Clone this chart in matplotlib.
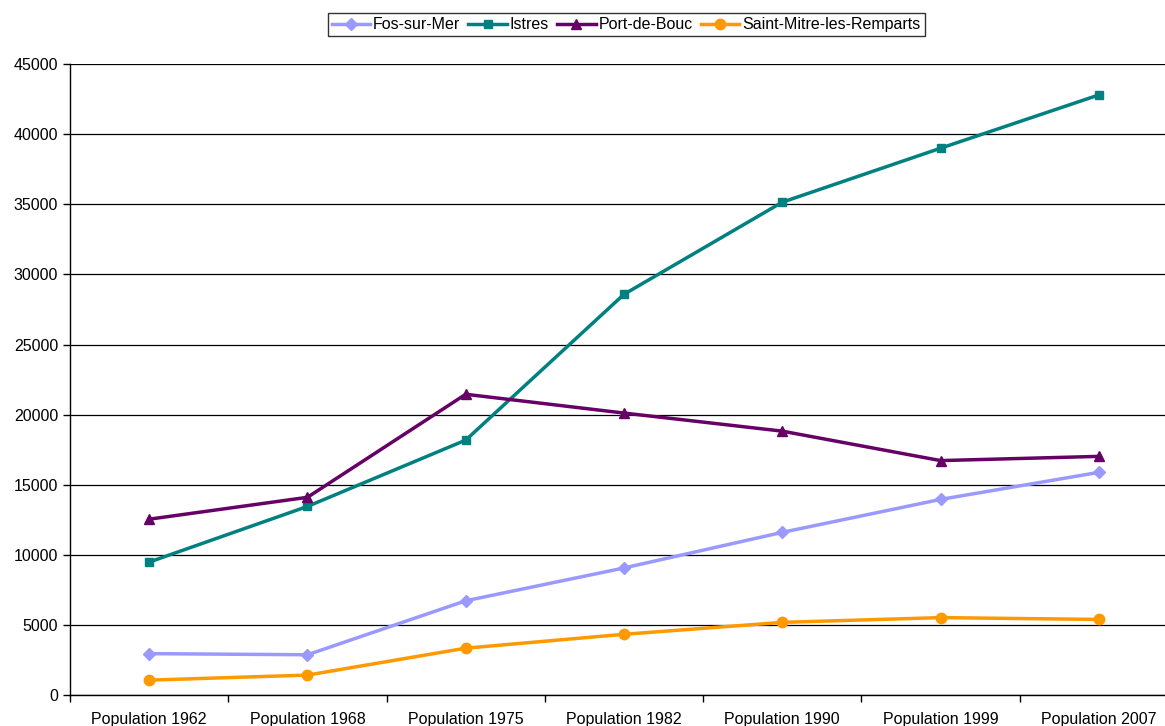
import matplotlib.pyplot as plt
from matplotlib.ticker import FixedLocator, NullFormatter

plt.rcParams["font.family"] = ["Liberation Sans", "DejaVu Sans"]

years = ["Population 1962", "Population 1968", "Population 1975", "Population 1982",
         "Population 1990", "Population 1999", "Population 2007"]
fos_sur_mer = [2950, 2870, 6720, 9060, 11600, 13950, 15880]
istres = [9480, 13450, 18180, 28580, 35150, 39000, 42800]
port_de_bouc = [12540, 14100, 21450, 20110, 18820, 16720, 17020]
saint_mitre = [1060, 1420, 3340, 4330, 5180, 5520, 5390]

series = [
    ("Fos-sur-Mer", fos_sur_mer, "#9999FF", "D", 6.5),
    ("Istres", istres, "#008080", "s", 6),
    ("Port-de-Bouc", port_de_bouc, "#660066", "^", 7.5),
    ("Saint-Mitre-les-Remparts", saint_mitre, "#FF9900", "o", 7.5),
]

fig = plt.figure(figsize=(11.65, 7.26), dpi=100)
ax = fig.add_axes([0.0601, 0.0427, 0.951, 0.869])

x = range(len(years))
for name, values, color, marker, ms in series:
    ax.plot(x, values, color=color, marker=marker, markersize=ms, linewidth=2.5,
            label=name, zorder=3)

ax.set_xlim(-0.5, len(years) - 0.5)
ax.set_ylim(0, 45000)
ax.set_yticks(range(0, 45001, 5000))
ax.yaxis.grid(True, color="black", linewidth=0.9)
ax.set_axisbelow(True)

ax.set_xticks(list(x))
ax.set_xticklabels(years, fontsize=11.5)
ax.tick_params(axis="x", length=0, pad=12)
ax.xaxis.set_minor_locator(FixedLocator([i + 0.5 for i in range(-1, len(years))]))
ax.xaxis.set_minor_formatter(NullFormatter())
ax.tick_params(axis="x", which="minor", length=5, width=1, direction="out")
ax.tick_params(axis="y", labelsize=11.5, length=5, width=1, direction="out")

for side in ("top", "right"):
    ax.spines[side].set_visible(False)
for side in ("left", "bottom"):
    ax.spines[side].set_linewidth(1)

leg = fig.legend(loc="center", bbox_to_anchor=(0.5375, 0.966), ncol=4, fontsize=11.5,
                 frameon=True, fancybox=False, edgecolor="black", handlelength=2.4,
                 handletextpad=0.2, columnspacing=0.5, borderpad=0.25)
leg.get_frame().set_linewidth(1)

fig.savefig("out.png", dpi=100)
